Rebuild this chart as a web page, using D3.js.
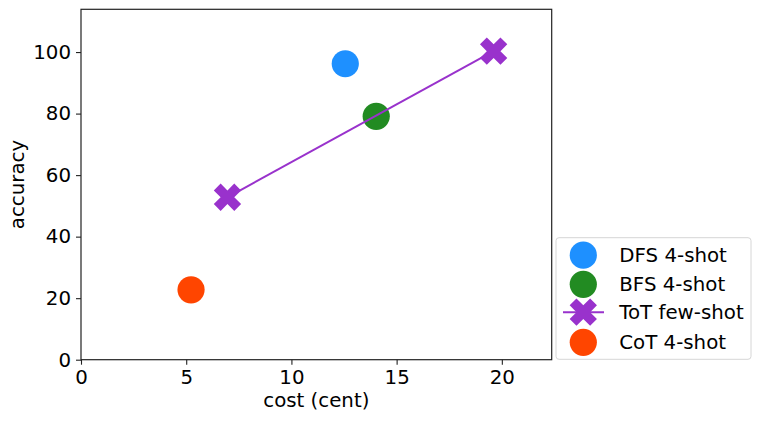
<!DOCTYPE html>
<html>
<head>
<meta charset="utf-8">
<script src="https://cdn.jsdelivr.net/npm/d3@7"></script>
<style>
    body { margin: 0; background: #fff; }
    text { font-family: "DejaVu Sans", sans-serif; }
</style>
</head>
<body>
<div id="chart"></div>
<script>

// values
const methods = ["DFS 4-shot", "BFS 4-shot", "ToT few-shot", "CoT 4-shot"];
const colors = ["#1E90FF", "#228B22", "#9932CC", "#FF4500"];

const dfsCost = [12.56];
const dfsAcc = [96.2];
const bfsCost = [14.03];
const bfsAcc = [79.1];
const totCost = [6.96, 19.61];
const totAcc = [52.8, 100.3];
const cotCost = [5.23];
const cotAcc = [22.7];

const xTicks = [0, 5, 10, 15, 20];
const yTicks = [0, 20, 40, 60, 80, 100];
const xDomain = [0, 22.37];
const yDomain = [0, 113.9];

const W = 761, H = 422;
const margin = {top: 9.3, right: 209.3, bottom: 62.3, left: 81};
const width = W - margin.left - margin.right;
const height = H - margin.top - margin.bottom;
const FONT = 19.8;
const R = 13.6;        // circle radius
const CROSS = 466;     // d3 symbol size for the X marker

let svg = d3.select("#chart").append("svg")
    .attr("width", W)
    .attr("height", H);

let g = svg.append("g")
    .attr("transform", `translate(${margin.left}, ${margin.top})`);

let x = d3.scaleLinear().domain(xDomain).range([0, width]);
let y = d3.scaleLinear().domain(yDomain).range([height, 0]);

// axes
let xAxis = g.append("g")
    .attr("transform", `translate(0, ${height})`)
    .call(d3.axisBottom(x).tickValues(xTicks).tickFormat(d3.format("d")).tickSizeOuter(0).tickSize(5).tickPadding(5));

let yAxis = g.append("g")
    .call(d3.axisLeft(y).tickValues(yTicks).tickFormat(d3.format("d")).tickSizeOuter(0).tickSize(5).tickPadding(5));

[xAxis, yAxis].forEach(a => {
    a.select(".domain").remove();
    a.selectAll("line").attr("stroke", "#222").attr("stroke-width", 1.1);
    a.selectAll("text").attr("font-size", FONT).attr("fill", "#000")
        .attr("font-family", "DejaVu Sans");
});

// frame
g.append("rect")
    .attr("width", width)
    .attr("height", height)
    .attr("fill", "none")
    .attr("stroke", "#222")
    .attr("stroke-width", 1.2);

// axis titles
g.append("text")
    .attr("x", width / 2)
    .attr("y", height + 47)
    .attr("text-anchor", "middle")
    .attr("font-size", FONT)
    .text("cost (cent)");

g.append("text")
    .attr("transform", `translate(${24 - margin.left}, ${height / 2}) rotate(-90)`)
    .attr("text-anchor", "middle")
    .attr("font-size", FONT)
    .text("accuracy");

let crossPath = d3.symbol().type(d3.symbolCross).size(CROSS)();

function drawCircles(cost, acc, color) {
    g.selectAll(null)
        .data(cost.map((c, i) => [c, acc[i]]))
        .enter()
        .append("circle")
        .attr("cx", d => x(d[0]))
        .attr("cy", d => y(d[1]))
        .attr("r", R)
        .attr("fill", color);
}

drawCircles(dfsCost, dfsAcc, colors[0]);
drawCircles(bfsCost, bfsAcc, colors[1]);

// ToT line + X markers
let totData = totCost.map((c, i) => [c, totAcc[i]]);
g.append("path")
    .datum(totData)
    .attr("d", d3.line().x(d => x(d[0])).y(d => y(d[1])))
    .attr("fill", "none")
    .attr("stroke", colors[2])
    .attr("stroke-width", 2);

g.selectAll(null)
    .data(totData)
    .enter()
    .append("path")
    .attr("d", crossPath)
    .attr("transform", d => `translate(${x(d[0])}, ${y(d[1])}) rotate(45)`)
    .attr("fill", colors[2]);

drawCircles(cotCost, cotAcc, colors[3]);

// legend
let legend = svg.append("g")
    .attr("transform", "translate(556, 237.7)");

legend.append("rect")
    .attr("width", 195)
    .attr("height", 121.6)
    .attr("rx", 3)
    .attr("fill", "#fff")
    .attr("stroke", "#d6d6d6")
    .attr("stroke-width", 1);

const rowY = [17.5, 46.6, 74.5, 104.6];

methods.forEach((m, i) => {
    let row = legend.append("g")
        .attr("transform", `translate(0, ${rowY[i]})`);

    if (i == 2) {
        row.append("line")
            .attr("x1", 7).attr("x2", 48)
            .attr("stroke", colors[i])
            .attr("stroke-width", 2);
        row.append("path")
            .attr("d", crossPath)
            .attr("transform", "translate(27.3, 0) rotate(45)")
            .attr("fill", colors[i]);
    } else {
        row.append("circle")
            .attr("cx", 27.3)
            .attr("r", R)
            .attr("fill", colors[i]);
    }

    row.append("text")
        .attr("x", 63.3)
        .attr("dy", "0.36em")
        .attr("font-size", FONT)
        .text(m);
});

</script>
</body>
</html>
